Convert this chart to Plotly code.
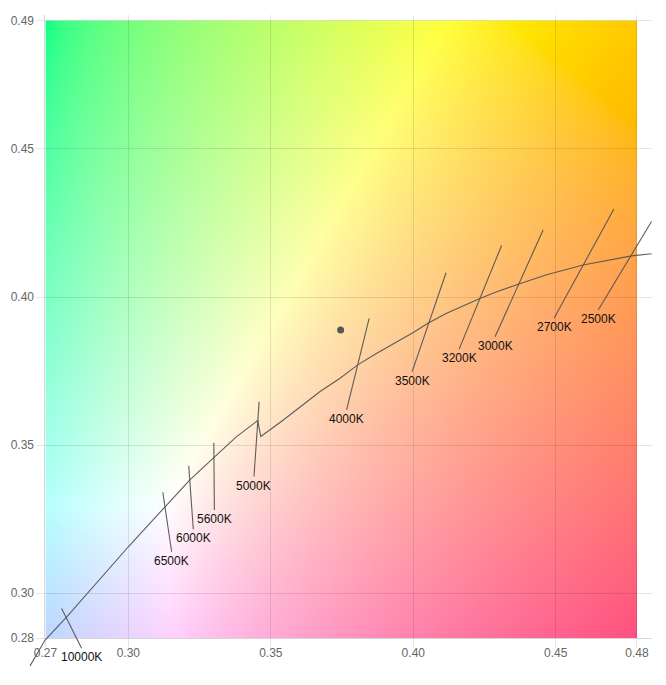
import base64
import struct
import zlib

import numpy as np
import plotly.graph_objects as go

# --- data ---
locus_x = [0.2655, 0.2708, 0.2784, 0.2889, 0.3000, 0.3129, 0.3216, 0.3298, 0.3380,
           0.3454, 0.3465, 0.3544, 0.3596, 0.3673, 0.3743, 0.3805, 0.3872, 0.4000,
           0.4053, 0.4117, 0.4232, 0.4293, 0.4368, 0.4468, 0.4596, 0.4702, 0.4766, 0.4836]
locus_y = [0.2755, 0.2842, 0.2920, 0.3034, 0.3157, 0.3292, 0.3383, 0.3456, 0.3529,
           0.3583, 0.3529, 0.3585, 0.3625, 0.3681, 0.3726, 0.3771, 0.3810, 0.3880,
           0.3912, 0.3945, 0.3994, 0.4018, 0.4043, 0.4075, 0.4108, 0.4128, 0.4139, 0.4146]

cct_labels = ["10000K", "6500K", "6000K", "5600K", "5000K", "4000K",
              "3500K", "3200K", "3000K", "2700K", "2500K"]
iso_top_x = [0.2766, 0.3121, 0.3212, 0.3300, 0.3459, 0.3845, 0.4115, 0.4310, 0.4456, 0.4704, 0.4836]
iso_top_y = [0.2949, 0.3341, 0.3430, 0.3508, 0.3647, 0.3928, 0.4082, 0.4174, 0.4227, 0.4297, 0.4255]
iso_bot_x = [0.2836, 0.3152, 0.3228, 0.3302, 0.3441, 0.3766, 0.3996, 0.4161, 0.4287, 0.4494, 0.4649]
iso_bot_y = [0.2814, 0.3140, 0.3216, 0.3281, 0.3394, 0.3619, 0.3748, 0.3824, 0.3866, 0.3928, 0.3956]

point_x = [0.3745]
point_y = [0.3889]

x_ticks = [0.2709, 0.30, 0.35, 0.40, 0.45, 0.4785]
x_ticktext = ["0.27", "0.30", "0.35", "0.40", "0.45", "0.48"]
y_ticks = [0.2849, 0.30, 0.35, 0.40, 0.45, 0.4933]
y_ticktext = ["0.28", "0.30", "0.35", "0.40", "0.45", "0.49"]

# --- geometry (page body has an 8px margin, so the figure sits at 8,8) ---
OFF = 8
W, H = 666 - 2 * OFF, 685 - 2 * OFF
pl, pr, pt, pb = 45.4 - OFF, 651.8 - OFF, 15.0 - OFF, 638.0 - OFF
xr = [0.2709, 0.4837]
yr = [0.2849, 0.4952]
kx = (pr - pl) / (xr[1] - xr[0])
ky = (pb - pt) / (yr[1] - yr[0])
# unclipped overlay axes spanning the whole figure, same scale
x2r = [xr[0] - pl / kx, xr[1] + (W - pr) / kx]
y2r = [yr[0] - (H - pb) / ky, yr[1] + pt / ky]


def chroma_rgb(x0, x1, y0, y1, nx=240, ny=240):
    xs = np.linspace(x0, x1, nx)
    ys = np.linspace(y1, y0, ny)
    x, y = np.meshgrid(xs, ys)
    X = x / y
    Z = (1 - x - y) / y
    Y = np.ones_like(X)
    m = np.array([[3.2406, -1.5372, -0.4986],
                  [-0.9689, 1.8758, 0.0415],
                  [0.0557, -0.2040, 1.0570]])
    lin = np.einsum("ij,jhw->hwi", m, np.stack([X, Y, Z]))
    lin = np.clip(lin, 0, None)
    lin = lin / lin.max(axis=2, keepdims=True)
    srgb = np.where(lin <= 0.0031308, 12.92 * lin, 1.055 * lin ** (1 / 2.4) - 0.055)
    return (np.clip(srgb, 0, 1) * 255).round().astype(np.uint8)


def png_uri(rgb):
    h, w, _ = rgb.shape
    raw = b"".join(b"\x00" + rgb[i].tobytes() for i in range(h))

    def chunk(tag, data):
        body = tag + data
        return struct.pack(">I", len(data)) + body + struct.pack(">I", zlib.crc32(body) & 0xFFFFFFFF)

    png = (b"\x89PNG\r\n\x1a\n"
           + chunk(b"IHDR", struct.pack(">IIBBBBB", w, h, 8, 2, 0, 0, 0))
           + chunk(b"IDAT", zlib.compress(raw, 9))
           + chunk(b"IEND", b""))
    return "data:image/png;base64," + base64.b64encode(png).decode()


bg_x0, bg_x1 = x_ticks[0], x_ticks[-1]
bg_y0, bg_y1 = y_ticks[0], y_ticks[-1]
bg = png_uri(chroma_rgb(bg_x0, bg_x1, bg_y0, bg_y1))

line_col = "rgba(85,85,85,0.95)"
grid_col = "rgba(0,0,0,0.1)"

fig = go.Figure()
fig.add_trace(go.Scatter(x=locus_x, y=locus_y, mode="lines", xaxis="x2", yaxis="y2",
                         line=dict(color=line_col, width=1.1), hoverinfo="skip"))
for i in range(len(cct_labels)):
    fig.add_trace(go.Scatter(x=[iso_top_x[i], iso_bot_x[i]], y=[iso_top_y[i], iso_bot_y[i]],
                             mode="lines", xaxis="x2", yaxis="y2",
                             line=dict(color=line_col, width=1.1), hoverinfo="skip"))
    fig.add_annotation(x=iso_bot_x[i], y=iso_bot_y[i], xref="x2", yref="y2",
                       text=cct_labels[i], showarrow=False, yanchor="top",
                       font=dict(size=12, color="#111", family="Liberation Sans, Arial"))
fig.add_trace(go.Scatter(x=point_x, y=point_y, mode="markers", xaxis="x2", yaxis="y2",
                         marker=dict(color="#555", size=7)))

fig.add_layout_image(source=bg, xref="x", yref="y", x=bg_x0, y=bg_y1,
                     sizex=bg_x1 - bg_x0, sizey=bg_y1 - bg_y0,
                     sizing="stretch", layer="below")

tick_font = dict(size=12, color="#666", family="Liberation Sans, Arial")
fig.update_layout(
    width=W, height=H,
    margin=dict(l=0, r=0, t=0, b=0),
    paper_bgcolor="white", plot_bgcolor="rgba(0,0,0,0)",
    showlegend=False,
    xaxis=dict(domain=[pl / W, pr / W], range=xr, tickvals=x_ticks, ticktext=x_ticktext,
               showgrid=True, gridcolor=grid_col, zeroline=False, ticks="outside",
               ticklen=8, tickcolor=grid_col, showline=True, linecolor="rgba(0,0,0,0.16)",
               tickfont=tick_font, ticklabelstandoff=-4, automargin=False, anchor="y"),
    yaxis=dict(domain=[(H - pb) / H, (H - pt) / H], range=yr, tickvals=y_ticks,
               ticktext=y_ticktext, showgrid=True, gridcolor=grid_col, zeroline=False,
               ticks="outside", ticklen=8, tickcolor=grid_col, showline=True,
               linecolor="rgba(0,0,0,0.16)", tickfont=tick_font, automargin=False, anchor="x"),
    xaxis2=dict(domain=[0, 1], range=x2r, visible=False, anchor="y2"),
    yaxis2=dict(domain=[0, 1], range=y2r, visible=False, anchor="x2"),
)

fig.write_html("out.html")
